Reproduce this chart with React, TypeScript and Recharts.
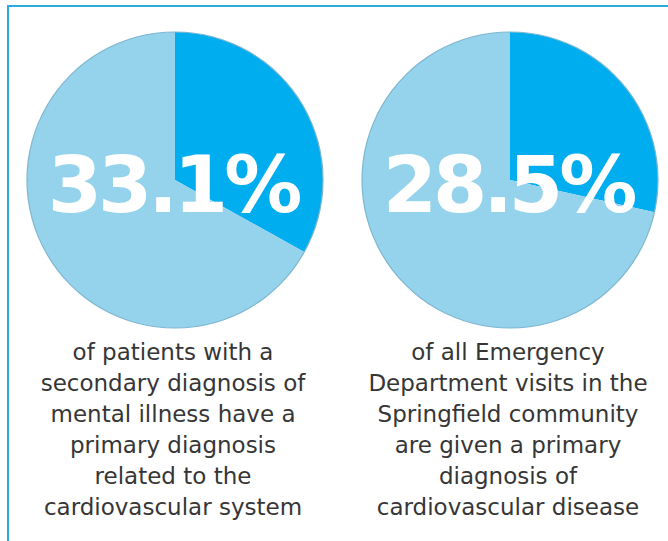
import { PieChart, Pie, Cell } from 'recharts'

// ── Data ───────────────────────────────────────────────────────────────────

const SHARES = [33.1, 28.5]
const BIG_LABELS = ['33.1%', '28.5%']
const CAPTIONS = [
  [
    'of patients with a',
    'secondary diagnosis of',
    'mental illness have a',
    'primary diagnosis',
    'related to the',
    'cardiovascular system',
  ],
  [
    'of all Emergency',
    'Department visits in the',
    'Springfield community',
    'are given a primary',
    'diagnosis of',
    'cardiovascular disease',
  ],
]

const DARK = '#00adef'
const LIGHT = '#95d3ec'
const EDGE = '#7db6cf'
const FRAME = '#2aaae2'
const FONT = '"DejaVu Sans", Verdana, sans-serif'

const W = 668
const H = 541
const CX = [175, 510]
const CY = 180
const R = 148

export default function App() {
  const pies = SHARES.map(s => [
    { name: 'share', value: s },
    { name: 'rest', value: +(100 - s).toFixed(1) },
  ])

  return (
    <div style={{ position: 'absolute', left: 0, top: 0, width: W, height: H, background: '#fff', fontFamily: FONT }}>
      {/* frame: only top and left edges are visible in the crop */}
      <div style={{ position: 'absolute', left: 7, top: 5, width: W - 7, height: 2, background: FRAME }} />
      <div style={{ position: 'absolute', left: 7, top: 5, width: 2, height: H - 5, background: FRAME }} />

      <div style={{ position: 'absolute', left: 0, top: 0 }}>
        <PieChart width={W} height={H} margin={{ top: 0, right: 0, bottom: 0, left: 0 }}>
          {pies.map((d, i) => (
            <Pie
              key={'p' + i}
              data={d}
              dataKey="value"
              cx={CX[i]}
              cy={CY}
              outerRadius={R}
              startAngle={90}
              endAngle={-270}
              stroke="none"
              isAnimationActive={false}
            >
              <Cell fill={DARK} />
              <Cell fill={LIGHT} />
            </Pie>
          ))}
          {/* thin rim around each pie */}
          {pies.map((_, i) => (
            <Pie
              key={'o' + i}
              data={[{ value: 1 }]}
              dataKey="value"
              cx={CX[i]}
              cy={CY}
              innerRadius={R - 0.6}
              outerRadius={R + 0.6}
              fill={EDGE}
              stroke="none"
              isAnimationActive={false}
            />
          ))}
        </PieChart>
      </div>

      <svg width={W} height={H} style={{ position: 'absolute', left: 0, top: 0, pointerEvents: 'none' }}>
        {BIG_LABELS.map((t, i) => (
          <text
            key={t}
            x={CX[i] - 2}
            y={212}
            textAnchor="middle"
            fill="#fff"
            fontFamily={FONT}
            fontWeight="bold"
            fontSize={78}
            letterSpacing={-4}
          >
            {t}
          </text>
        ))}
        {CAPTIONS.map((lines, i) =>
          lines.map((l, j) => (
            <text
              key={i + '-' + j}
              x={CX[i] - 2}
              y={360 + j * 31}
              textAnchor="middle"
              fill="#363636"
              fontFamily={FONT}
              fontSize={23}
            >
              {l}
            </text>
          )),
        )}
      </svg>
    </div>
  )
}
